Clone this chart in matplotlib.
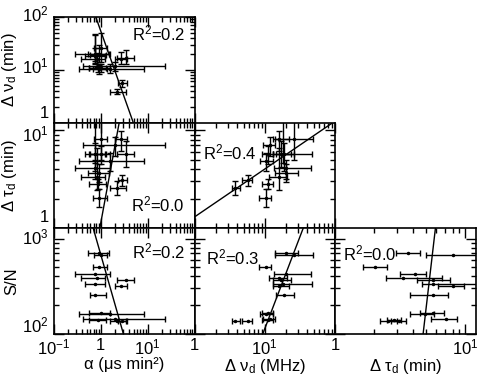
import matplotlib
matplotlib.use('Agg')
import matplotlib.pyplot as plt
import numpy as np
from matplotlib.ticker import LogLocator, FuncFormatter, NullFormatter
from matplotlib.transforms import blended_transform_factory, ScaledTranslation

plt.rcParams['font.family'] = ['Liberation Sans', 'DejaVu Sans']
plt.rcParams['mathtext.fontset'] = 'custom'
plt.rcParams['mathtext.rm'] = 'Liberation Sans'
plt.rcParams['mathtext.it'] = 'Liberation Sans:italic'
plt.rcParams['mathtext.default'] = 'regular'
plt.rcParams['font.size'] = 11

# one entry per source
alpha = [0.92, 1.0, 0.92, 0.74, 0.81, 3.4, 0.74, 2.65, 0.74, 1.6, 1.0, 2.0, 2.2, 2.9, 0.85]
alpha_lo = [0.53, 0.7, 0.67, 0.28, 0.37, 2.2, 0.45, 2.0, 0.58, 0.35, 0.55, 0.41, 1.6, 2.3, 0.55]
alpha_hi = [1.5, 1.35, 1.35, 1.57, 1.2, 5.0, 1.2, 3.6, 1.3, 8.5, 1.6, 23, 3.5, 3.6, 1.3]

nu = [20, 26, 10.5, 20, 16, 17, 18, 16, 19, 10.5, 11, 12, 3.8, 5.7, 11]
nu_lo = [14, 14, 8.3, 13.5, 11.5, 13, 13, 13, 14.5, 8.5, 9, 9.5, 3.4, 4.8, 9]
nu_hi = [30, 49, 12.3, 45, 21, 24, 47, 22, 26, 13, 13, 14, 4.4, 6.5, 13]

tau = [3.65, 8.1, 2.03, 4.1, 3.34, 5.67, 5.67, 8.1, 5.7, 4.9, 5.7, 7.1, 2.55, 3.1, 2.85]
tau_lo = [2.94, 5.0, 1.63, 3.16, 2.45, 4.25, 4.65, 6.2, 3.8, 3.8, 4.5, 5.5, 2.2, 2.7, 2.5]
tau_hi = [4.5, 15, 2.5, 5.0, 6.6, 7.7, 14, 9.8, 7.4, 5.8, 6.9, 8.6, 3.0, 3.5, 3.2]

snr = [705, 681, 508, 424, 390, 366, 332, 319, 254, 162, 166, 141, 137, 137, 138]

# fitted lines: log10(y) = icpt + slope * log10(x), panels in order
# (0,0) (1,0) (2,0) (1,1) (2,1) (2,2)
fit_icpt = [1.73, 0.055, 2.83, 0.113, 0.11, -5.99]
fit_slope = [-2.5, 2.61, -1.73, 0.49, 1.94, 11.8]
r2 = [0.2, 0.0, 0.2, 0.4, 0.3, 0.0]

def var(name):
    d = {'alpha': (alpha, alpha_lo, alpha_hi), 'nu': (nu, nu_lo, nu_hi),
         'tau': (tau, tau_lo, tau_hi), 'snr': (snr, None, None)}
    v, lo, hi = d[name]
    v = np.array(v, float)
    if lo is None:
        return v, None
    return v, np.vstack([v - np.array(lo), np.array(hi) - v])

lims = {'alpha': (0.1, 100), 'nu': (1, 100), 'tau': (1, 12), 'snr': (100, 1300)}
xlab = {'alpha': 'α (μs min²)', 'nu': 'Δ ν$_d$ (MHz)', 'tau': 'Δ τ$_d$ (min)'}
ylab = {'nu': 'Δ ν$_d$ (min)', 'tau': 'Δ τ$_d$ (min)', 'snr': 'S/N'}
xshow = {'alpha': [0.1, 1, 10], 'nu': [1, 10], 'tau': [1, 10]}
# y tick labels and their small vertical nudge (px) off the tick
yshow = {'nu': {1: 9, 10: 3, 100: 3}, 'tau': {1: 10, 10: -4}, 'snr': {100: 8, 1000: 1}}

def lab(v):
    e = int(round(np.log10(v)))
    return '1' if e == 0 else r'$10^{%d}$' % e

def make_fmt(show):
    def f(v, pos):
        for s in show:
            if abs(v - s) / s < 1e-6:
                return lab(v)
        return ''
    return FuncFormatter(f)

cols = ['alpha', 'nu', 'tau']
rows = ['nu', 'tau', 'snr']
panels = [(0, 0), (1, 0), (2, 0), (1, 1), (2, 1), (2, 2)]
r2pos = {(0, 0): (0.93, 0.84, 'right'), (1, 0): (0.93, 0.22, 'right'),
         (2, 0): (0.93, 0.78, 'right'), (1, 1): (0.06, 0.72, 'left'),
         (2, 1): (0.08, 0.72, 'left'), (2, 2): (0.06, 0.76, 'left')}

W, H = 484, 383
fig = plt.figure(figsize=(W / 100, H / 100), dpi=100)
left0, pw = 54, 140.5
top0, ph = 17, 105.5

for k, (r, c) in enumerate(panels):
    xn, yn = cols[c], rows[r]
    ax = fig.add_axes([(left0 + c * pw) / W, (H - top0 - (r + 1) * ph) / H, pw / W, ph / H])
    ax.set_xscale('log')
    ax.set_yscale('log')
    x, xe = var(xn)
    y, ye = var(yn)
    ax.errorbar(x, y, xerr=xe, yerr=ye, fmt='o', ms=1.5, color='black',
                ecolor='black', elinewidth=1.0, capsize=2.5, capthick=1.0)
    xl = lims[xn]
    xx = np.logspace(np.log10(xl[0]), np.log10(xl[1]), 200)
    ax.plot(xx, 10 ** (fit_icpt[k] + fit_slope[k] * np.log10(xx)), color='black', lw=1.0)
    ax.set_xlim(*xl)
    ax.set_ylim(*lims[yn])
    tx, ty, ha = r2pos[(r, c)]
    ax.text(tx, ty, 'R$^2$=%.1f' % r2[k], transform=ax.transAxes, ha=ha, va='center', fontsize=12)
    for axis in (ax.xaxis, ax.yaxis):
        axis.set_major_locator(LogLocator(base=10))
        axis.set_minor_locator(LogLocator(base=10, subs=np.arange(2, 10)))
        axis.set_minor_formatter(NullFormatter())
    ax.tick_params(which='both', direction='in', top=True, right=True, width=1.0)
    ax.tick_params(which='major', length=7, pad=3)
    ax.tick_params(which='minor', length=3.5)
    ax.tick_params(labelsize=12)
    for s in ax.spines.values():
        s.set_linewidth(1.2)
    if r == 2:
        ax.xaxis.set_major_formatter(make_fmt(xshow[xn]))
        ax.set_xlabel(xlab[xn], fontsize=12)
        ax.xaxis.set_label_coords(0.5, -0.225)
    else:
        ax.xaxis.set_major_formatter(NullFormatter())
    ax.yaxis.set_major_formatter(NullFormatter())
    if c == 0:
        for v, dy in yshow[yn].items():
            tr = blended_transform_factory(ax.transAxes, ax.transData) + \
                ScaledTranslation(-5 / 100, dy / 100, fig.dpi_scale_trans)
            ax.text(0, v, lab(v), transform=tr, ha='right', va='center', fontsize=12)
        ax.set_ylabel(ylab[yn], fontsize=12)
        ax.yaxis.set_label_coords(-0.25, 0.5)

fig.savefig('out.png', dpi=100)
